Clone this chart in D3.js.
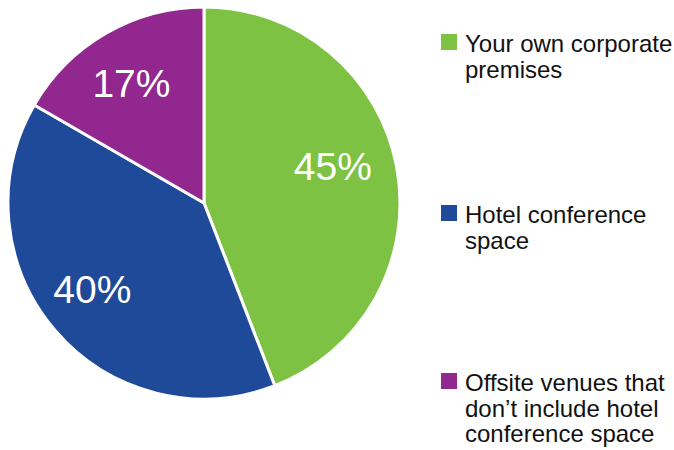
<!DOCTYPE html>
<meta charset="utf-8">
<style>
body { margin: 0; background: #fff; }
text { font-family: "Liberation Sans", Arial, sans-serif; }
</style>
<svg width="674" height="450"></svg>
<script src="https://d3js.org/d3.v7.min.js"></script>
<script>

// data
var categories = ["Your own corporate premises", "Hotel conference space", "Offsite venues that don\u2019t include hotel conference space"];
var values = [45, 40, 17];
var labels = ["45%", "40%", "17%"];
var legendLines = [
  ["Your own corporate", "premises"],
  ["Hotel conference", "space"],
  ["Offsite venues that", "don\u2019t include hotel", "conference space"]
];
var colors = ["#7dc242", "#1f4a9a", "#92278f"];

var svg = d3.select("svg");
var cx = 204, cy = 203, r = 196;

var pie = d3.pie().sort(null).value(function(d) { return d; });
var arc = d3.arc().innerRadius(0).outerRadius(r);
var labelArc = d3.arc().innerRadius(r * 0.71).outerRadius(r * 0.71);
// small nudges so labels sit like the original
var nudge = [[-8, -11], [-6, -5], [-3, 0]];

var g = svg.append("g").attr("transform", "translate(" + cx + "," + cy + ")");
var arcs = pie(values);

g.selectAll("path").data(arcs).enter().append("path")
    .attr("d", arc)
    .attr("fill", function(d, i) { return colors[i]; })
    .attr("stroke", "#fff")
    .attr("stroke-width", 3)
    .attr("stroke-linejoin", "round");

g.selectAll("text.pct").data(arcs).enter().append("text")
    .attr("class", "pct")
    .attr("transform", function(d, i) {
      var c = labelArc.centroid(d);
      return "translate(" + (c[0] + nudge[i][0]) + "," + (c[1] + nudge[i][1]) + ")";
    })
    .attr("text-anchor", "middle")
    .attr("dy", "0.36em")
    .attr("fill", "#fff")
    .style("font-size", "39px")
    .text(function(d, i) { return labels[i]; });

// legend
var legendY = [52, 223, 391];
var leg = svg.append("g").selectAll("g").data(categories).enter().append("g")
    .attr("transform", function(d, i) { return "translate(441," + legendY[i] + ")"; });

leg.append("rect")
    .attr("x", 0).attr("y", -18)
    .attr("width", 16).attr("height", 16)
    .attr("fill", function(d, i) { return colors[i]; });

leg.append("text")
    .attr("fill", "#111")
    .style("font-size", "24px")
    .each(function(d, i) {
      var t = d3.select(this);
      legendLines[i].forEach(function(line, j) {
        t.append("tspan").attr("x", 24).attr("y", j * 25.5).text(line);
      });
    });

</script>
